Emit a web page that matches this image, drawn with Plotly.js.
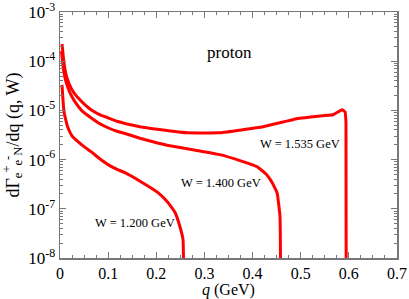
<!DOCTYPE html>
<html><head><meta charset="utf-8">
<script src="https://cdn.plot.ly/plotly-3.0.1.min.js"></script>
<style>body{margin:0;background:#fff}#c{width:409px;height:299px}</style>
</head><body><div id="c"></div>
<script>
var q1535 = [0.0042,0.0069,0.0098,0.0145,0.0229,0.0291,0.0374,0.0499,0.0644,0.081,0.0997,0.1184,0.137,0.166,0.193,0.264,0.332,0.422,0.492,0.546,0.567,0.586,0.592,0.594,0.5947];
var y1535 = [2.24e-4,1.22e-4,7.31e-5,4.58e-5,2.87e-5,2.28e-5,1.80e-5,1.36e-5,1.03e-5,8.34e-6,7.08e-6,6.01e-6,5.35e-6,4.65e-6,4.24e-6,3.51e-6,3.51e-6,4.65e-6,6.76e-6,7.77e-6,8.14e-6,1.03e-5,9.37e-6,5.6e-6,1e-10];
var q1400 = [0.003,0.0073,0.0125,0.0208,0.0312,0.0457,0.0644,0.081,0.0997,0.1184,0.137,0.166,0.193,0.2285,0.264,0.299,0.332,0.380,0.409,0.428,0.440,0.451,0.457,0.4586];
var y1400 = [1.6e-4,6.67e-5,3.8e-5,2.28e-5,1.49e-5,9.8e-6,7.08e-6,5.47e-6,4.44e-6,3.77e-6,3.35e-6,2.72e-6,2.31e-6,1.91e-6,1.66e-6,1.45e-6,1.26e-6,9.1e-7,7.2e-7,5.1e-7,3.5e-7,2.1e-7,6.9e-8,1e-10];
var q1200 = [0.0042,0.0062,0.0083,0.0125,0.0166,0.0249,0.0374,0.0499,0.0644,0.082,0.0997,0.1174,0.135,0.168,0.2036,0.2243,0.239,0.249,0.2555,0.2576];
var y1200 = [3.3e-5,1.64e-5,9.4e-6,6.15e-6,4.44e-6,3.05e-6,2.31e-6,1.83e-6,1.45e-6,1.05e-6,7.9e-7,6.38e-7,5.42e-7,3.55e-7,2.13e-7,1.34e-7,8.4e-8,4.36e-8,2.37e-8,1e-10];
var ytickvals = [1e-8,1e-7,1e-6,1e-5,1e-4,1e-3];
var yticktext = ['10<sup>-8</sup>','10<sup>-7</sup>','10<sup>-6</sup>','10<sup>-5</sup>','10<sup>-4</sup>','10<sup>-3</sup>'];
var xtickvals = [0,0.1,0.2,0.3,0.4,0.5,0.6,0.7];
var xticktext = ['0','0.1','0.2','0.3','0.4','0.5','0.6','0.7'];
var labels = ['W = 1.535 GeV','W = 1.400 GeV','W = 1.200 GeV'];

var ln = {color:'#ff0000', width:3, shape:'spline', smoothing:0.3};
var data = [
  {x:q1535, y:y1535, mode:'lines', line:ln, hoverinfo:'none'},
  {x:q1400, y:y1400, mode:'lines', line:ln, hoverinfo:'none'},
  {x:q1200, y:y1200, mode:'lines', line:ln, hoverinfo:'none'}
];
var FAM = 'Liberation Serif';
var axcol = '#777';
var layout = {
  width:409, height:299,
  margin:{l:60, r:12, t:12, b:41},
  showlegend:false,
  paper_bgcolor:'#fff', plot_bgcolor:'#fff',
  font:{family:FAM, color:'#000'},
  xaxis:{range:[0,0.7], tickvals:xtickvals, ticktext:xticktext, ticks:'inside', ticklen:6, tickcolor:axcol,
    minor:{dtick:0.025, ticks:'inside', ticklen:3, tickcolor:axcol},
    showline:true, linecolor:axcol, linewidth:1.5, mirror:'ticks', showgrid:false, zeroline:false,
    tickfont:{family:FAM, size:16, color:'#000'}},
  yaxis:{type:'log', range:[-8.0005,-2.9995], tickvals:ytickvals, ticktext:yticktext, ticks:'inside', ticklen:6, tickcolor:axcol,
    ticklabeloverflow:'allow',
    minor:{ticks:'inside', ticklen:3, tickcolor:axcol, dtick:'D1'},
    showline:true, linecolor:axcol, linewidth:1.5, mirror:'ticks', showgrid:false, zeroline:false,
    tickfont:{family:FAM, size:17, color:'#000'},
    title:{text:'dΓ<sub>e</sub><sup>+</sup><sub>e</sub><sup>-</sup><sub>N</sub>/dq (q, W)', font:{family:FAM, size:18, color:'#000'}, standoff:6}},
  annotations:[
    {text:'<i>q</i> (GeV)', x:0.5, y:-0.13, xref:'x domain', yref:'y domain', yanchor:'middle', showarrow:false, font:{family:FAM, size:16, color:'#000'}},
    {text:'proton', x:0.353, y:-3.83, xref:'x', yref:'y', showarrow:false, font:{family:FAM, size:17, color:'#000'}},
    {text:labels[0], x:0.4985, y:-5.677, xref:'x', yref:'y', showarrow:false, font:{family:FAM, size:12.5, color:'#000'}},
    {text:labels[1], x:0.334, y:-6.47, xref:'x', yref:'y', showarrow:false, font:{family:FAM, size:12.5, color:'#000'}},
    {text:labels[2], x:0.156, y:-7.28, xref:'x', yref:'y', showarrow:false, font:{family:FAM, size:12.5, color:'#000'}}
  ]
};
Plotly.newPlot('c', data, layout, {staticPlot:true});
</script></body></html>
